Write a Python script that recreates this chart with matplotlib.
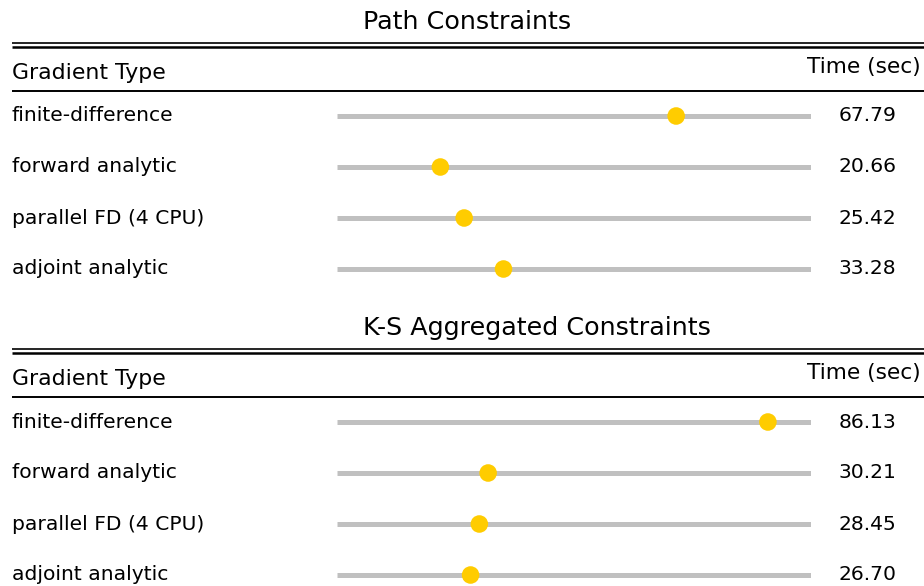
import matplotlib
matplotlib.use("Agg")
import matplotlib.pyplot as plt
from matplotlib.lines import Line2D
from matplotlib.transforms import blended_transform_factory

plt.rcParams["font.family"] = "DejaVu Sans"

# data
gradient_types = ["finite-difference", "forward analytic", "parallel FD (4 CPU)", "adjoint analytic"]
path_times = [67.79, 20.66, 25.42, 33.28]
ks_times = [86.13, 30.21, 28.45, 26.70]
panel_titles = ["Path Constraints", "K-S Aggregated Constraints"]
header_left = "Gradient Type"
header_right = "Time (sec)"

W, H = 924, 586
fig = plt.figure(figsize=(W / 100, H / 100), dpi=100)

xmax = max(path_times + ks_times) * 1.1
bar_x0, bar_x1 = 337, 811
row_gap = 51
dot_color = "#ffcc00"
bar_color = "#c0c0c0"


def fx(px):
    return px / W


def fy(py):
    return 1 - py / H


def hline(py, lw, color="black"):
    fig.add_artist(Line2D([fx(12), fx(924)], [fy(py), fy(py)], lw=lw, color=color,
                          transform=fig.transFigure, solid_capstyle="butt"))


for p, (title, times) in enumerate(zip(panel_titles, [path_times, ks_times])):
    off = p * 306
    first_row = 116 + off
    # axes covering the bar area
    top = first_row - row_gap / 2
    bottom = first_row + 3 * row_gap + row_gap / 2
    ax = fig.add_axes([fx(bar_x0), fy(bottom), fx(bar_x1 - bar_x0), (bottom - top) / H])
    ax.set_xlim(0, xmax)
    ax.set_ylim(len(times) - 0.5, -0.5)
    ax.axis("off")
    ys = list(range(len(times)))
    ax.hlines(ys, 0, xmax, color=bar_color, lw=3.6, zorder=1)
    ax.scatter(times, ys, s=160, color=dot_color, zorder=3, edgecolors="none")

    tr = blended_transform_factory(fig.transFigure, ax.transData)
    for i, (name, t) in enumerate(zip(gradient_types, times)):
        ax.text(fx(12), i, name, transform=tr, ha="left", va="center", fontsize=14.6, clip_on=False)
        ax.text(fx(896), i, f"{t:.2f}", transform=tr, ha="right", va="center", fontsize=14.6, clip_on=False)

    fig.text(fx(363), fy(22 + off), title, ha="left", va="center", fontsize=18.3)
    hline(42.5 + off, 1.2)
    hline(46.5 + off, 1.8)
    fig.text(fx(12), fy(73 + off), header_left, ha="left", va="center", fontsize=15.8)
    fig.text(fx(921), fy(67 + off), header_right, ha="right", va="center", fontsize=15.6)
    hline(90.5 + off, 1.4)

fig.savefig("out.png", dpi=100)
